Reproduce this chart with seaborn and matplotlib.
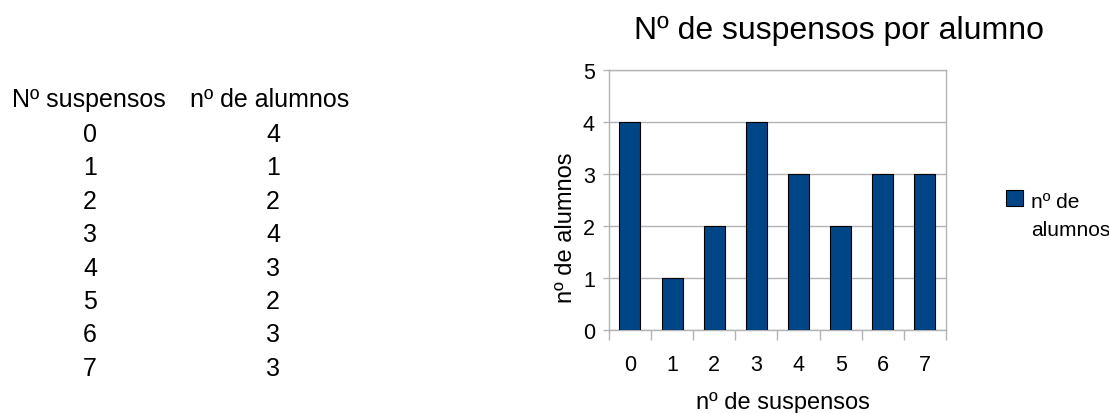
import matplotlib
matplotlib.use("Agg")
import matplotlib.pyplot as plt
import seaborn as sns
import pandas as pd
from matplotlib.patches import Patch, Rectangle
from matplotlib.legend_handler import HandlerPatch

# Data
suspensos = [0, 1, 2, 3, 4, 5, 6, 7]
alumnos = [4, 1, 2, 4, 3, 2, 3, 3]
col_headers = ["Nº suspensos", "nº de alumnos"]
title = "Nº de suspensos por alumno"
xlabel = "nº de suspensos"
ylabel = "nº de alumnos"
legend_label = "nº de\nalumnos"

sns.set_theme(style="white")
plt.rcParams["font.family"] = ["Liberation Sans", "DejaVu Sans"]
plt.rcParams["text.color"] = "black"

BAR = "#004586"
GRID = "#b3b3b3"
PX = 72 / 100  # points per pixel

fig = plt.figure(figsize=(11.09, 4.14), dpi=100)
ax = fig.add_axes([0.549, 0.2005, 0.304, 0.628])

df = pd.DataFrame({"s": [str(v) for v in suspensos], "a": alumnos})
sns.barplot(data=df, x="s", y="a", color=BAR, width=0.5, saturation=1,
            edgecolor="black", linewidth=0.8, ax=ax, zorder=3)

ax.set_xlim(-0.5, len(suspensos) - 0.5)
ax.set_ylim(0, 5)
ax.set_yticks(range(0, 6))
ax.grid(axis="y", color=GRID, linewidth=1, zorder=0)
ax.set_axisbelow(True)
for s in ax.spines.values():
    s.set_color(GRID)
    s.set_linewidth(1)
    s.set_visible(True)

ax.set_xticks(range(len(suspensos)))
ax.set_xticklabels([str(v) for v in suspensos])
ax.set_xticks([i - 0.5 for i in range(len(suspensos) + 1)], minor=True)
ax.tick_params(axis="x", which="major", length=0, pad=24 * PX, labelsize=15.5, labelcolor="black")
ax.tick_params(axis="x", which="minor", length=10 * PX, width=1, color=GRID, direction="out", bottom=True)
ax.tick_params(axis="y", which="major", length=6 * PX, width=1, color=GRID, direction="out",
               left=True, pad=8 * PX, labelsize=15.5, labelcolor="black")

ax.set_xlabel(xlabel, fontsize=17, color="black")
ax.set_ylabel(ylabel, fontsize=17, color="black")
ax.xaxis.set_label_coords(0.516, -0.235)
ax.yaxis.set_label_coords(-0.095, 0.396)


def top_square(legend, orig_handle, xdescent, ydescent, width, height, fontsize):
    shift = 0.85 * fontsize
    return Rectangle((-xdescent, -ydescent + shift), width, height)


handle = Patch(facecolor=BAR, edgecolor="black", linewidth=0.8)
leg = fig.legend([handle], [legend_label], loc="upper left", bbox_to_anchor=(0.907, 0.535),
                 frameon=False, fontsize=15, handlelength=0.8, handleheight=0.8,
                 handletextpad=0.4, borderaxespad=0, borderpad=0, labelspacing=0,
                 handler_map={Patch: HandlerPatch(patch_func=top_square)})
for t in leg.get_texts():
    t.set_linespacing(1.65)
    t.set_color("black")

fig.text(839 / 1109, 1 - 39 / 414, title, ha="center", va="baseline", fontsize=23, color="black")

# Left table
fig.text(12 / 1109, 1 - 100 / 414, col_headers[0], ha="left", va="center", fontsize=18, color="black")
fig.text(190 / 1109, 1 - 100 / 414, col_headers[1], ha="left", va="center", fontsize=18, color="black")
row_y0, row_dy = 135, 33.4
for i, (s, a) in enumerate(zip(suspensos, alumnos)):
    y = 1 - (row_y0 + i * row_dy) / 414
    fig.text(90 / 1109, y, str(s), ha="center", va="center", fontsize=18, color="black")
    fig.text(273 / 1109, y, str(a), ha="center", va="center", fontsize=18, color="black")

fig.savefig("out.png", dpi=100, facecolor="white")
